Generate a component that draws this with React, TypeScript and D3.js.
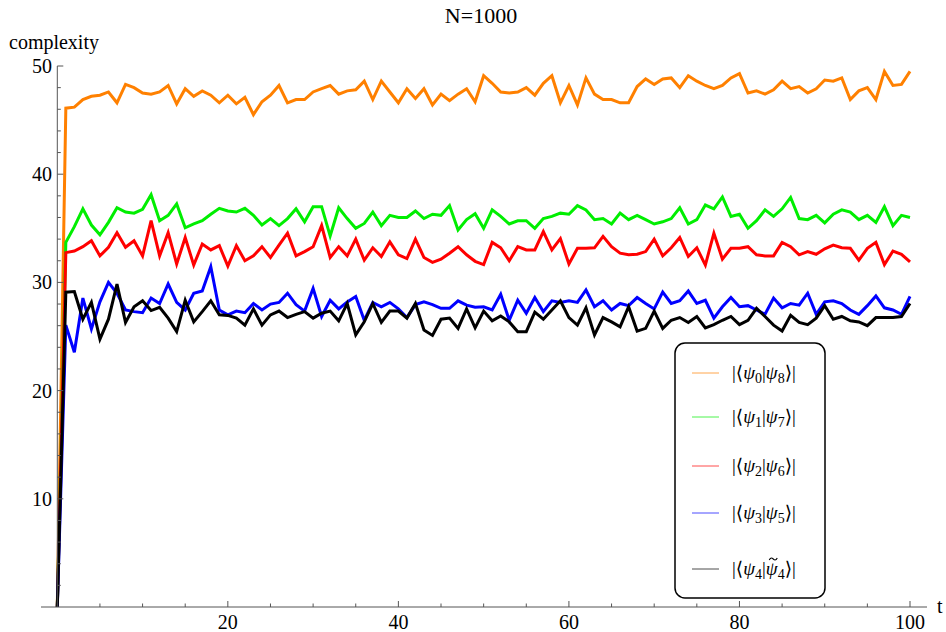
import React, { useEffect, useRef } from 'react';
import * as d3 from 'd3';

const width = 946;
const height = 632;

// t = 0..100
const psi08 = [0, 46.1, 46.2, 46.9, 47.2, 47.3, 47.6, 46.6, 48.3, 48.0, 47.5,
  47.4, 47.6, 48.2, 46.5, 47.9, 47.2, 47.7, 47.3, 46.6, 47.3,
  46.5, 47.1, 45.5, 46.7, 47.3, 48.2, 46.6, 46.9, 46.9, 47.6,
  47.9, 48.2, 47.4, 47.7, 47.8, 48.6, 46.9, 48.6, 47.6, 46.6,
  47.9, 47.0, 47.9, 46.4, 47.4, 46.8, 47.4, 47.9, 46.7, 49.1,
  48.4, 47.6, 47.5, 47.6, 48.0, 47.3, 48.4, 49.1, 46.6, 48.2,
  46.4, 48.9, 47.4, 46.9, 46.9, 46.6, 46.6, 48.1, 48.8, 48.3,
  48.8, 48.9, 48.0, 49.1, 48.6, 48.2, 47.9, 48.2, 48.9, 49.3,
  47.5, 47.7, 47.4, 47.8, 48.6, 47.9, 48.1, 47.5, 47.9, 48.7,
  48.6, 48.9, 46.9, 47.7, 48.0, 46.9, 49.5, 48.2, 48.3, 49.5];

const psi17 = [0, 33.7, 35.15, 36.8, 35.3, 34.4, 35.55, 36.9, 36.5, 36.4, 36.75,
  38.1, 35.7, 36.2, 37.25, 35.05, 35.4, 35.7, 36.3, 36.85, 36.6,
  36.5, 36.85, 36.2, 35.3, 35.9, 35.25, 35.9, 36.8, 35.6, 37.0,
  37.0, 34.3, 36.9, 35.9, 35.0, 35.45, 36.5, 35.25, 36.2, 36.0,
  36.0, 36.6, 35.9, 36.3, 36.2, 37.1, 34.85, 35.8, 36.35, 35.0,
  36.7, 36.1, 35.4, 35.7, 35.7, 35.0, 35.9, 36.1, 36.4, 36.3,
  37.1, 36.7, 35.8, 35.9, 35.4, 36.4, 35.8, 36.2, 35.8, 35.4,
  35.6, 35.9, 36.9, 35.4, 35.8, 37.15, 36.8, 37.9, 36.1, 36.3,
  35.0, 35.7, 36.7, 36.1, 36.8, 37.85, 35.9, 35.8, 36.2, 35.5,
  36.3, 36.7, 36.5, 35.8, 36.2, 35.55, 37.0, 35.25, 36.2, 36.0];

const psi26 = [0, 32.75, 32.9, 33.3, 33.85, 32.45, 33.25, 34.6, 33.25, 33.85, 32.45,
  35.7, 32.45, 34.6, 31.7, 34.15, 31.6, 33.55, 33.0, 33.4, 31.5,
  33.4, 32.0, 32.45, 33.3, 32.3, 33.45, 34.55, 32.45, 32.85, 33.3,
  35.25, 32.3, 33.3, 32.45, 34.0, 32.05, 33.2, 32.4, 33.75, 32.55,
  32.2, 34.0, 32.3, 31.85, 32.15, 32.7, 33.3, 32.55, 31.95, 31.65,
  33.7, 33.2, 32.0, 33.3, 33.0, 33.0, 34.7, 33.0, 34.05, 31.7,
  33.15, 33.15, 33.2, 34.25, 33.3, 32.7, 32.55, 32.6, 32.85, 34.0,
  32.45, 33.2, 34.15, 32.4, 33.2, 31.6, 34.55, 32.15, 33.15, 33.15,
  33.3, 32.55, 32.45, 32.45, 33.7, 33.3, 32.55, 32.85, 32.6, 33.1,
  33.45, 33.2, 33.15, 32.05, 33.15, 33.7, 31.65, 32.9, 32.6, 31.9];

const psi35 = [0, 26.05, 23.55, 28.55, 25.7, 28.2, 30.0, 29.0, 27.45, 27.3, 27.2,
  28.55, 28.05, 29.85, 28.15, 27.45, 29.0, 29.2, 31.45, 27.45, 27.0,
  27.35, 27.2, 28.05, 27.45, 28.0, 28.15, 29.0, 27.95, 27.35, 29.45,
  26.85, 28.35, 27.55, 28.2, 28.7, 26.5, 28.15, 27.75, 28.15, 27.55,
  26.75, 27.95, 28.2, 27.95, 27.6, 27.6, 28.3, 27.9, 27.7, 27.75,
  27.45, 28.9, 26.5, 28.35, 27.15, 28.6, 27.3, 28.3, 28.15, 28.3,
  28.15, 29.3, 27.75, 28.3, 27.45, 28.05, 27.85, 28.6, 28.05, 27.55,
  29.1, 28.05, 28.3, 29.2, 28.05, 28.35, 26.7, 27.75, 28.6, 27.75,
  27.85, 27.45, 27.05, 28.55, 27.65, 28.05, 27.9, 29.0, 27.05, 28.2,
  28.3, 28.05, 27.45, 27.05, 27.85, 28.75, 27.65, 27.45, 27.05, 28.7];

const psi44 = [0, 29.1, 29.15, 26.6, 28.15, 24.75, 26.6, 29.85, 26.3, 27.75, 28.3,
  27.4, 27.7, 26.7, 25.45, 28.35, 26.35, 27.3, 28.3, 27.0, 26.95,
  26.7, 26.05, 27.55, 26.05, 27.0, 27.35, 26.75, 27.05, 27.3, 26.7,
  27.15, 27.35, 26.45, 28.05, 25.15, 26.35, 28.05, 26.3, 27.35, 27.35,
  26.7, 28.05, 25.6, 25.1, 26.6, 26.7, 25.75, 27.55, 25.8, 27.35,
  26.45, 26.9, 26.35, 25.45, 25.45, 27.25, 26.6, 27.45, 28.3, 26.75,
  26.05, 27.65, 25.15, 26.75, 26.35, 25.9, 27.75, 25.5, 25.75, 27.35,
  25.75, 26.5, 26.75, 26.3, 26.85, 25.8, 26.1, 26.5, 26.85, 26.1,
  26.5, 27.6, 26.85, 26.05, 25.5, 26.95, 26.3, 26.1, 26.7, 27.85,
  26.6, 26.85, 26.45, 26.35, 26.0, 26.75, 26.75, 26.75, 26.85, 28.05];

const seriesColors = ['#ff8000', '#00ee00', '#ff0000', '#0000ff', '#000000'];
// legend label parts: [left index, right index, tilde on right psi?]
const legendParts: [string, string, boolean][] = [
  ['0', '8', false],
  ['1', '7', false],
  ['2', '6', false],
  ['3', '5', false],
  ['4', '4', true]
];

const title = 'N=1000';
const yLabel = 'complexity';
const xLabel = 't';

const serif = '"Liberation Serif", "DejaVu Serif", serif';

export default () => {
  const svgRef = useRef<SVGSVGElement>(null);

  const xLeft = 57.3;
  const xRight = 910;
  const yBottom = 607;
  const yTop = 66;
  const majorTick = 6;
  const minorTick = 3.5;
  const axisColor = '#555';

  useEffect(() => {
    if (!svgRef.current) {
      return;
    }
    const svg = d3.select(svgRef.current);
    svg.selectAll('*').remove();

    const x = d3.scaleLinear().domain([0, 100]).range([xLeft, xRight]);
    const y = d3.scaleLinear().domain([0, 50]).range([yBottom, yTop]);

    // title
    svg.append('text')
      .attr('x', 481)
      .attr('y', 23)
      .attr('text-anchor', 'middle')
      .style('font-family', serif)
      .style('font-size', '22px')
      .text(title);

    // data lines
    const allSeries = [psi08, psi17, psi26, psi35, psi44];
    const line = d3.line<number>()
      .x((d, i) => x(i))
      .y(d => y(d));

    svg.append('g')
      .selectAll('path')
      .data(allSeries)
      .enter()
      .append('path')
      .attr('d', d => line(d))
      .attr('fill', 'none')
      .attr('stroke', (d, i) => seriesColors[i])
      .attr('stroke-width', 3)
      .attr('stroke-linejoin', 'miter');

    // x axis
    const xAxis = svg.append('g');
    xAxis.append('line')
      .attr('x1', 41).attr('x2', 927)
      .attr('y1', yBottom).attr('y2', yBottom)
      .attr('stroke', axisColor).attr('stroke-width', 1);
    xAxis.selectAll('line.minor')
      .data(d3.range(5, 101, 5).filter(v => v % 20 !== 0))
      .enter()
      .append('line')
      .attr('class', 'minor')
      .attr('x1', d => x(d)).attr('x2', d => x(d))
      .attr('y1', yBottom).attr('y2', yBottom - minorTick)
      .attr('stroke', axisColor);
    xAxis.selectAll('line.major')
      .data(d3.range(20, 101, 20))
      .enter()
      .append('line')
      .attr('class', 'major')
      .attr('x1', d => x(d)).attr('x2', d => x(d))
      .attr('y1', yBottom).attr('y2', yBottom - majorTick)
      .attr('stroke', axisColor);
    xAxis.selectAll('text')
      .data(d3.range(20, 101, 20))
      .enter()
      .append('text')
      .attr('x', d => x(d))
      .attr('y', 629)
      .attr('text-anchor', 'middle')
      .style('font-family', serif)
      .style('font-size', '20px')
      .text(d => String(d));
    svg.append('text')
      .attr('x', 937)
      .attr('y', 613)
      .style('font-family', serif)
      .style('font-size', '20px')
      .text(xLabel);

    // y axis
    const yAxis = svg.append('g');
    yAxis.append('line')
      .attr('x1', xLeft).attr('x2', xLeft)
      .attr('y1', yTop).attr('y2', yBottom)
      .attr('stroke', axisColor).attr('stroke-width', 1);
    yAxis.selectAll('line.minor')
      .data(d3.range(2, 51, 2).filter(v => v % 10 !== 0))
      .enter()
      .append('line')
      .attr('class', 'minor')
      .attr('x1', xLeft).attr('x2', xLeft + minorTick)
      .attr('y1', d => y(d)).attr('y2', d => y(d))
      .attr('stroke', axisColor);
    yAxis.selectAll('line.major')
      .data(y.ticks(5).filter(v => v > 0))
      .enter()
      .append('line')
      .attr('class', 'major')
      .attr('x1', xLeft).attr('x2', xLeft + majorTick)
      .attr('y1', d => y(d)).attr('y2', d => y(d))
      .attr('stroke', axisColor);
    yAxis.selectAll('text')
      .data(y.ticks(5).filter(v => v > 0))
      .enter()
      .append('text')
      .attr('x', 52)
      .attr('y', d => y(d) + 7)
      .attr('text-anchor', 'end')
      .style('font-family', serif)
      .style('font-size', '20px')
      .text(d => String(d));
    svg.append('text')
      .attr('x', 9)
      .attr('y', 49)
      .style('font-family', serif)
      .style('font-size', '20px')
      .text(yLabel);

    // legend
    const legend = svg.append('g');
    legend.append('rect')
      .attr('x', 675).attr('y', 343)
      .attr('width', 150).attr('height', 255)
      .attr('rx', 10).attr('ry', 10)
      .attr('fill', 'white')
      .attr('stroke', '#000')
      .attr('stroke-width', 1.5);

    const rowY = [373, 417, 466, 513, 569];
    legendParts.forEach(([a, b, tilde], i) => {
      const cy = rowY[i];
      legend.append('line')
        .attr('x1', 692).attr('x2', 719)
        .attr('y1', cy).attr('y2', cy)
        .attr('stroke', seriesColors[i])
        .attr('stroke-opacity', 0.7)
        .attr('stroke-width', 1);
      const t = legend.append('text')
        .attr('x', 732)
        .attr('y', cy + 6)
        .style('font-family', serif)
        .style('font-size', '19px');
      t.append('tspan').text('|\u27E8');
      t.append('tspan').style('font-style', 'italic').text('\u03C8');
      t.append('tspan').attr('dy', 4).style('font-size', '14px').text(a);
      t.append('tspan').attr('dy', -4).text('|');
      t.append('tspan').style('font-style', 'italic').text('\u03C8');
      t.append('tspan').attr('dy', 4).style('font-size', '14px').text(b);
      t.append('tspan').attr('dy', -4).text('\u27E9|');

      if (tilde) {
        // small tilde accent over the second psi (char index 5)
        const node = t.node() as SVGTextElement;
        const s = node.getStartPositionOfChar(5);
        const e = node.getEndPositionOfChar(5);
        const cx = (s.x + e.x) / 2 + 1.5;
        const ty = cy - 10;
        legend.append('path')
          .attr('d', `M${cx - 4},${ty + 1} C${cx - 2.5},${ty - 2} ${cx - 1},${ty - 1} ${cx},${ty} C${cx + 1},${ty + 1} ${cx + 2.5},${ty + 2} ${cx + 4},${ty - 1}`)
          .attr('fill', 'none')
          .attr('stroke', '#000')
          .attr('stroke-width', 1.1);
      }
    });
  }, []);

  return (
    <div style={{ position: 'absolute', left: 0, top: 0, width, height }}>
      <svg ref={svgRef} width={width} height={height} style={{ display: 'block', background: '#fff' }} />
    </div>
  );
};
